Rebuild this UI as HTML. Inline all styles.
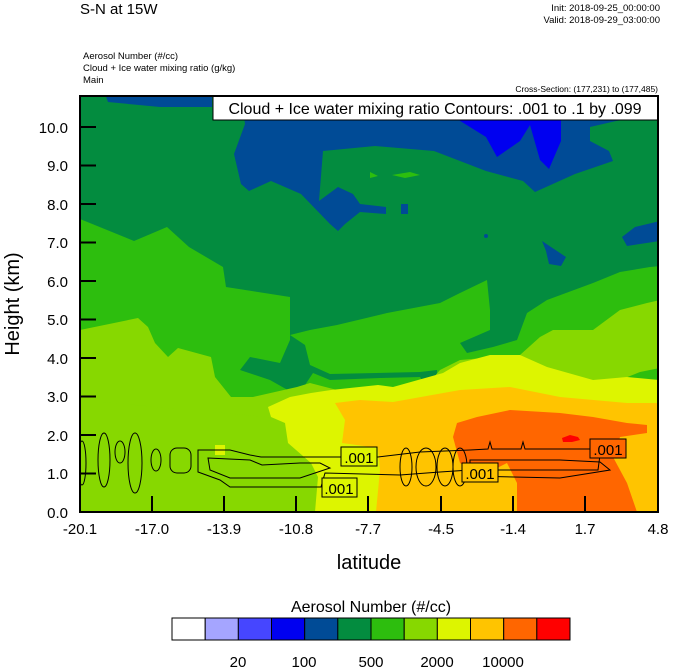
<!DOCTYPE html>
<html><head><meta charset="utf-8"><style>
html,body{margin:0;padding:0;background:#fff;}
svg{display:block;font-family:"Liberation Sans",Arial,sans-serif;}
</style></head><body>
<svg width="674" height="668" viewBox="0 0 674 668" xmlns="http://www.w3.org/2000/svg">
<rect width="674" height="668" fill="#fff"/>
<text x="80" y="14" font-size="15">S-N at 15W</text>
<text x="660" y="11" font-size="9.5" text-anchor="end">Init: 2018-09-25_00:00:00</text>
<text x="660" y="23" font-size="9.5" text-anchor="end">Valid: 2018-09-29_03:00:00</text>
<text x="83" y="59" font-size="9.5">Aerosol Number   (#/cc)</text>
<text x="83" y="71" font-size="9.5">Cloud + Ice water mixing ratio   (g/kg)</text>
<text x="83" y="83" font-size="9.5">Main</text>
<text x="658" y="92" font-size="8.5" text-anchor="end">Cross-Section: (177,231) to (177,485)</text>
<defs><clipPath id="c"><rect x="80" y="96" width="578" height="416"/></clipPath></defs>
<g clip-path="url(#c)">
<rect x="80" y="96" width="578" height="416" fill="#038C3F"/>
<polygon fill="#004B96" points="241,94 660,94 660,114 616,121 590,127 590,141 609,151 613,161 575,174 535,192 523,181 486,171 434,151 375,146 323,151 319,201 338,187 353,194 360,204 386,207 386,214 360,212 345,224 338,231 330,224 301,194 271,181 249,191 241,184 234,154 245,124"/>
<polygon fill="#004B96" points="105,94 212,94 212,107 160,107 108,102"/>
<rect x="401" y="204" width="7" height="10" fill="#004B96"/>
<polygon fill="#004B96" points="542,241 557,251 566,257 561,266 549,264 546,251"/>
<polygon fill="#004B96" points="660,221 635,227 622,237 627,246 660,241"/>
<circle cx="486" cy="236" r="2" fill="#004B96"/>
<polygon fill="#0000F0" points="405,94 561,94 561,141 549,169 540,160 530,125 520,141 497,157 486,137 449,114 405,104"/>
<polygon fill="#2DBE0E" points="370,172 378,176 370,178"/>
<polygon fill="#2DBE0E" points="392,175 410,172 420,175 405,178"/>
<polygon fill="#2DBE0E" points="80,219 134,241 167,227 189,247 223,267 226,287 290,297 290,335 310,330 337,325 387,313 440,303 460,293 487,280 490,310 490,330 460,343 467,353 493,347 517,340 527,313 547,300 593,283 620,272 650,267 660,266 660,512 80,512"/>
<polygon fill="#038C3F" points="290,335 290,340 280,363 250,357 240,370 270,380 293,393 300,407 305,385 313,373 330,380 380,378 420,377 430,393 437,377 437,370 420,372 330,374 310,365 305,345"/>
<polygon fill="#87D800" points="80,330 138,318 148,327 155,343 168,357 178,348 211,357 215,377 231,397 253,397 297,387 310,383 337,390 420,393 440,370 460,360 520,355 540,337 553,330 593,330 620,310 647,303 660,300 660,512 80,512"/>
<polygon fill="#2DBE0E" points="620,380 640,372 660,368 660,385 640,382"/>
<polygon fill="#87D800" points="80,512 80,400 300,420 315,512"/>
<polygon fill="#DDF500" points="268,407 290,397 311,393 331,390 378,385 393,387 443,373 460,363 490,355 520,355 547,367 593,380 627,377 660,380 660,512 315,512 318,477 311,463 288,443 285,423 271,417"/>
<polygon fill="#DDF500" points="215,445 225,445 225,455 215,455"/>
<polygon fill="#FFC400" points="335,403 360,400 393,402 460,390 510,387 560,397 627,403 660,403 660,512 376,512 380,470 378,448 342,443 345,420"/>
<polygon fill="#FF6600" points="457,423 477,417 510,410 560,413 593,417 627,423 647,425 647,433 620,437 613,457 627,483 637,512 517,512 517,483 507,463 493,470 470,470 460,463 453,437"/>
<polygon fill="#FF0000" points="562,438 570,435 578,437 580,440 572,442 563,442"/>
<g fill="none" stroke="#000" stroke-width="1">
<path d="M198,450 L230,450 L250,455 L261,457 L300,457 L330,457 L378,457 L420,452 L470,450 L488,449 L490,442 L492,449 L521,449 L523,442 L525,449 L593,449 L600,455 L598,470 L560,470 L470,470 L440,472 L400,475 L325,473 L321,487 L230,487 L220,480 L198,472 Z"/>
<path d="M208,458 L250,460 L262,465 L300,463 L320,463 L330,468 L300,478 L230,478 L210,470 Z"/>
<ellipse cx="104" cy="460" rx="6" ry="27"/>
<ellipse cx="120" cy="452" rx="5" ry="11"/>
<ellipse cx="135" cy="463" rx="7" ry="30"/>
<ellipse cx="156" cy="460" rx="5" ry="11"/>
<rect x="170" y="448" width="21" height="25" rx="7"/>
<ellipse cx="82" cy="463" rx="4" ry="22"/>
<ellipse cx="406" cy="467" rx="6" ry="19"/>
<ellipse cx="426" cy="467" rx="10" ry="19"/>
<ellipse cx="445" cy="467" rx="8" ry="19"/>
<ellipse cx="460" cy="467" rx="7" ry="19"/>
<path d="M470,460 L560,460 L600,462 L610,470 L560,478 L470,476 Z"/>
</g>
<g font-size="15" stroke="#000" stroke-width="1">
<rect x="341" y="447" width="36" height="19" fill="#DDF500"/>
<rect x="322" y="478" width="35" height="19" fill="#DDF500"/>
<rect x="462" y="463" width="36" height="19" fill="#FFC400"/>
<rect x="590" y="439" width="36" height="19" fill="#FF6600"/>
</g>
<g font-size="15" text-anchor="middle">
<text x="359" y="463">.001</text>
<text x="339" y="494">.001</text>
<text x="480" y="479">.001</text>
<text x="608" y="455">.001</text>
</g>
<rect x="213" y="96" width="445" height="24" fill="#fff" stroke="#000" stroke-width="1"/>
<text x="435" y="114" font-size="16" text-anchor="middle">Cloud + Ice water mixing ratio Contours: .001 to .1 by .099</text>
</g>
<rect x="80" y="96" width="578" height="416" fill="none" stroke="#000" stroke-width="2"/>
<g stroke="#000" stroke-width="2">
<line x1="80" y1="127" x2="96" y2="127"/><line x1="80" y1="165.5" x2="96" y2="165.5"/>
<line x1="80" y1="204" x2="96" y2="204"/><line x1="80" y1="242.5" x2="96" y2="242.5"/>
<line x1="80" y1="281" x2="96" y2="281"/><line x1="80" y1="319.5" x2="96" y2="319.5"/>
<line x1="80" y1="358" x2="96" y2="358"/><line x1="80" y1="396.5" x2="96" y2="396.5"/>
<line x1="80" y1="435" x2="96" y2="435"/><line x1="80" y1="473.5" x2="96" y2="473.5"/>
<line x1="152" y1="512" x2="152" y2="496"/><line x1="224" y1="512" x2="224" y2="496"/>
<line x1="296" y1="512" x2="296" y2="496"/><line x1="368" y1="512" x2="368" y2="496"/>
<line x1="441" y1="512" x2="441" y2="496"/><line x1="513" y1="512" x2="513" y2="496"/>
<line x1="585" y1="512" x2="585" y2="496"/>
</g>
<g font-size="15" text-anchor="end">
<text x="68" y="133">10.0</text><text x="68" y="171">9.0</text><text x="68" y="210">8.0</text>
<text x="68" y="248">7.0</text><text x="68" y="287">6.0</text><text x="68" y="325">5.0</text>
<text x="68" y="364">4.0</text><text x="68" y="402">3.0</text><text x="68" y="441">2.0</text>
<text x="68" y="479">1.0</text><text x="68" y="518">0.0</text>
</g>
<g font-size="15" text-anchor="middle">
<text x="80" y="534">-20.1</text><text x="152" y="534">-17.0</text><text x="224" y="534">-13.9</text>
<text x="296" y="534">-10.8</text><text x="368" y="534">-7.7</text><text x="441" y="534">-4.5</text>
<text x="513" y="534">-1.4</text><text x="585" y="534">1.7</text><text x="658" y="534">4.8</text>
</g>
<text x="369" y="569" font-size="20" text-anchor="middle">latitude</text>
<text transform="translate(19,304) rotate(-90)" font-size="20" text-anchor="middle">Height (km)</text>
<text x="371" y="612" font-size="16" text-anchor="middle">Aerosol Number  (#/cc)</text>
<g stroke="#000" stroke-width="1">
<rect x="172" y="618" width="33.2" height="22" fill="#fff"/>
<rect x="205.2" y="618" width="33.2" height="22" fill="#A5A5FF"/>
<rect x="238.3" y="618" width="33.2" height="22" fill="#4646FF"/>
<rect x="271.5" y="618" width="33.2" height="22" fill="#0000F0"/>
<rect x="304.7" y="618" width="33.2" height="22" fill="#004B96"/>
<rect x="337.8" y="618" width="33.2" height="22" fill="#038C3F"/>
<rect x="371" y="618" width="33.2" height="22" fill="#2DBE0E"/>
<rect x="404.2" y="618" width="33.2" height="22" fill="#87D800"/>
<rect x="437.3" y="618" width="33.2" height="22" fill="#DDF500"/>
<rect x="470.5" y="618" width="33.2" height="22" fill="#FFC400"/>
<rect x="503.7" y="618" width="33.2" height="22" fill="#FF6600"/>
<rect x="536.8" y="618" width="33.2" height="22" fill="#FF0000"/>
</g>
<g font-size="15" text-anchor="middle">
<text x="238" y="667">20</text><text x="304" y="667">100</text><text x="371" y="667">500</text>
<text x="437" y="667">2000</text><text x="503" y="667">10000</text>
</g>
</svg>
</body></html>
